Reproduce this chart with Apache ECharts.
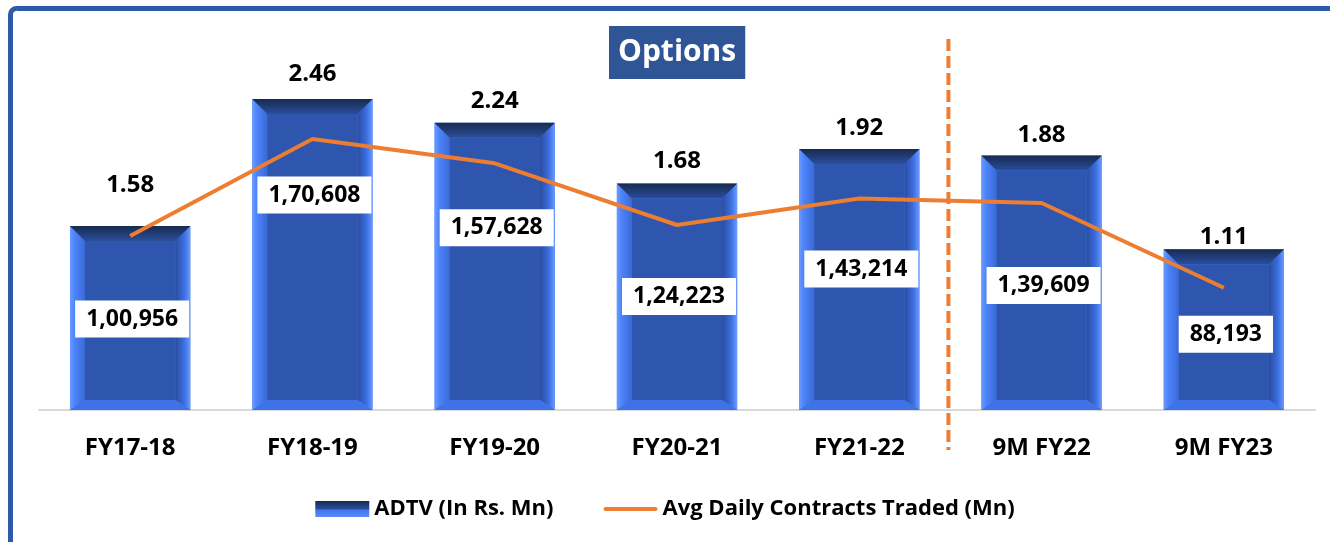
<!DOCTYPE html>
<html>
<head>
    <meta charset="UTF-8">
    <title>Options</title>
    <style>
        html, body {margin: 0; padding: 0; background: #fff;}
    </style>
</head>
<body>
    <div id="main" style="width:1330px;height:542px"></div>
    <script src="https://cdn.jsdelivr.net/npm/echarts@6/dist/echarts.min.js"></script>
    <script>
        var categories = ['FY17-18', 'FY18-19', 'FY19-20', 'FY20-21', 'FY21-22', '9M FY22', '9M FY23'];
        var adtv = [100956, 170608, 157628, 124223, 143214, 139609, 88193];
        var contracts = [1.58, 2.46, 2.24, 1.68, 1.92, 1.88, 1.11];
        // label placement (px from bar top), tuned to the picture
        var topLabelGap = [41, 25, 22, 22, 21, 20, 12];
        var boxLabelGap = [93, 96, 105, 113, 120, 130, 85];

        var FONT = '"Open Sans", Lato, sans-serif';

        function fmtIndian(n) {
            var s = String(n);
            if (s.length <= 3) return s;
            var last = s.slice(-3), rest = s.slice(0, -3);
            return rest.replace(/\B(?=(\d{2})+(?!\d))/g, ',') + ',' + last;
        }

        function renderBar(params, api) {
            var i = params.dataIndex;
            var top = api.coord([api.value(0), api.value(1)]);
            var base = api.coord([api.value(0), 0]);
            var bw = api.size([1, 0])[0] * 0.66;
            var x0 = top[0] - bw / 2, x1 = top[0] + bw / 2;
            var y0 = top[1], y1 = base[1];
            var b = 15, bb = 10;
            return {
                type: 'group',
                children: [
                    {type: 'rect', shape: {x: x0, y: y0, width: bw, height: y1 - y0}, style: {fill: '#4A80F5'}},
                    {type: 'polygon', shape: {points: [[x0, y0], [x0 + b, y0 + b], [x0 + b, y1 - bb], [x0, y1]]},
                        style: {fill: new echarts.graphic.LinearGradient(0, 0, 1, 0, [
                            {offset: 0, color: '#6A9BFF'}, {offset: 0.3, color: '#4D84FA'}, {offset: 1, color: '#3A69D8'}])}},
                    {type: 'polygon', shape: {points: [[x1, y0], [x1 - b, y0 + b], [x1 - b, y1 - bb], [x1, y1]]},
                        style: {fill: new echarts.graphic.LinearGradient(0, 0, 1, 0, [
                            {offset: 0, color: '#2B4C9E'}, {offset: 0.6, color: '#3C6FE2'}, {offset: 1, color: '#6A9BFF'}])}},
                    {type: 'polygon', shape: {points: [[x0, y1], [x1, y1], [x1 - b, y1 - bb], [x0 + b, y1 - bb]]},
                        style: {fill: '#3F72E6'}},
                    {type: 'polygon', shape: {points: [[x0, y0], [x1, y0], [x1 - b, y0 + b], [x0 + b, y0 + b]]},
                        style: {fill: new echarts.graphic.LinearGradient(0, 0, 0, 1, [
                            {offset: 0, color: '#172A50'}, {offset: 1, color: '#2B4E9C'}])}},
                    {type: 'rect', shape: {x: x0 + b, y: y0 + b, width: bw - 2 * b, height: y1 - y0 - b - bb},
                        style: {fill: '#2E56AE'}},
                    {type: 'text', style: {
                        text: contracts[i].toFixed(2), x: top[0], y: y0 - topLabelGap[i],
                        align: 'center', verticalAlign: 'middle',
                        font: 'bold 24px ' + FONT, fill: '#000'}},
                    {type: 'text', style: {
                        text: fmtIndian(adtv[i]), x: top[0] + 2, y: y0 + boxLabelGap[i],
                        align: 'center', verticalAlign: 'middle',
                        font: 'bold 23px ' + FONT, fill: '#000',
                        backgroundColor: '#fff', padding: [7, 11, 7, 11]}}
                ]
            };
        }

        var app = echarts.init(document.getElementById('main'));
        var option = {
            animation: false,
            title: {
                text: 'Options',
                left: 609, top: 26,
                backgroundColor: '#2F5597',
                padding: [7, 9, 7, 9],
                textStyle: {color: '#fff', fontSize: 30, fontWeight: 'bold', fontFamily: FONT, lineHeight: 39}
            },
            legend: {
                bottom: 17,
                left: 'center',
                itemWidth: 54, itemHeight: 16, itemGap: 50,
                textStyle: {fontSize: 22, fontWeight: 'bold', color: '#000', fontFamily: FONT},
                data: [
                    {name: 'ADTV (In Rs. Mn)', icon: 'rect',
                        itemStyle: {color: new echarts.graphic.LinearGradient(0, 0, 0, 1, [
                            {offset: 0, color: '#172A50'}, {offset: 0.5, color: '#2B4E9C'}, {offset: 0.55, color: '#3F72E6'}, {offset: 1, color: '#5A8EFF'}])}},
                    {name: 'Avg Daily Contracts Traded (Mn)',
                        icon: 'path://M2,0 L52,0 A2,2 0 0 1 52,4 L2,4 A2,2 0 0 1 2,0 Z',
                        itemStyle: {color: '#ED7D31'}}
                ]
            },
            grid: {left: 39, right: 15, top: 40, bottom: 132},
            xAxis: {
                type: 'category',
                data: categories,
                axisTick: {show: false},
                axisLine: {lineStyle: {color: '#D9D9D9', width: 2}},
                axisLabel: {margin: 26, fontSize: 24, fontWeight: 'bold', color: '#000', fontFamily: FONT}
            },
            yAxis: [
                {type: 'value', min: 0, max: 203000, show: false, splitLine: {show: false}},
                {type: 'value', min: 0, max: 3.36, show: false, splitLine: {show: false}}
            ],
            series: [
                {
                    name: 'ADTV (In Rs. Mn)',
                    type: 'custom',
                    renderItem: renderBar,
                    encode: {x: 0, y: 1},
                    data: adtv.map(function (v, i) { return [i, v]; }),
                    z: 2
                },
                {
                    name: 'Avg Daily Contracts Traded (Mn)',
                    type: 'line',
                    yAxisIndex: 1,
                    symbol: 'none',
                    lineStyle: {color: '#ED7D31', width: 4},
                    itemStyle: {color: '#ED7D31'},
                    data: contracts,
                    z: 3
                }
            ]
        };
        app.setOption(option);

        // decorations: frame and divider between full-year and 9M figures
        var xa = app.convertToPixel({xAxisIndex: 0}, categories[4]);
        var xb = app.convertToPixel({xAxisIndex: 0}, categories[5]);
        var xm = (xa + xb) / 2 - 2;
        app.setOption({
            graphic: [
                {type: 'rect', shape: {x: 10.5, y: 8.5, width: 1400, height: 600, r: 6},
                    style: {fill: 'none', stroke: '#2E5AAC', lineWidth: 5}},
                {type: 'line', shape: {x1: xm, y1: 39, x2: xm, y2: 450},
                    style: {stroke: '#ED7D31', lineWidth: 4, lineDash: [12, 5]}, z: 10}
            ]
        });
    </script>
</body>
</html>
